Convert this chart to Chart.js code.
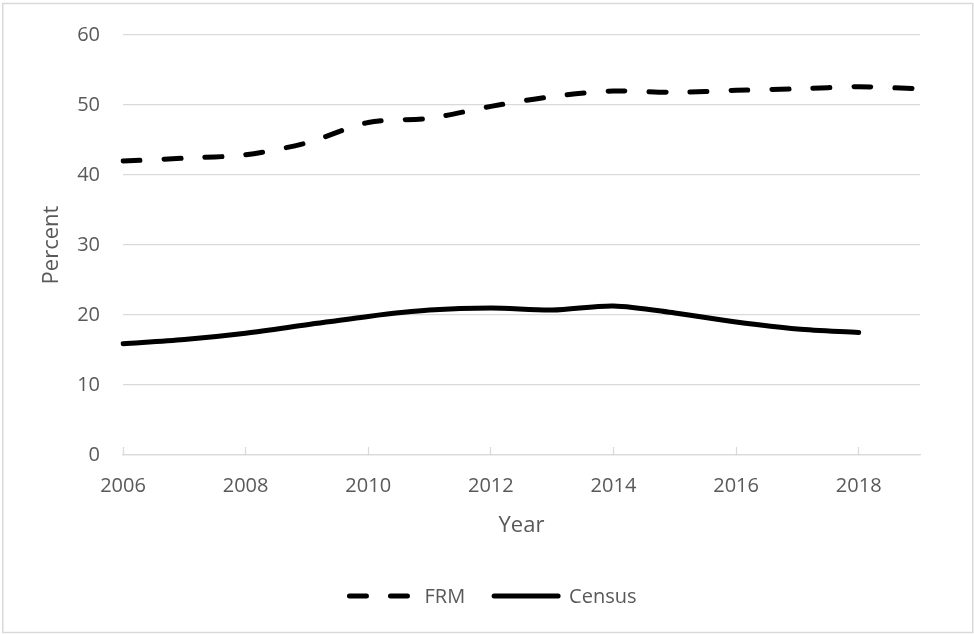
<!DOCTYPE html>
<html>
<head>
<meta charset="utf-8">
<title>FRM vs Census</title>
<script src="https://cdn.jsdelivr.net/npm/chart.js@4.4.1/dist/chart.umd.min.js"></script>
<style>
  html, body { margin: 0; padding: 0; background: #ffffff; }
  canvas { display: block; }
</style>
</head>
<body>
<canvas id="chart" width="974" height="634"></canvas>
<script>
// Years on the horizontal axis
const years = ['2006', '2007', '2008', '2009', '2010', '2011', '2012',
               '2013', '2014', '2015', '2016', '2017', '2018', '2019'];

// Share (percent) by year for each source
const frmPercent    = [42.0, 42.4, 42.9, 44.6, 47.5, 48.1, 49.8, 51.2, 52.0, 51.8, 52.1, 52.3, 52.6, 52.3];
const censusPercent = [15.9, 16.5, 17.4, 18.6, 19.8, 20.7, 21.0, 20.7, 21.3, 20.3, 19.0, 18.0, 17.5, null];

// Vertical axis range and step
const percentMin = 0;
const percentMax = 60;
const percentStep = 10;

const TEXT_COLOR = '#595959';
const RULE_COLOR = '#d9d9d9';
const FONT_FAMILY = '"Open Sans", "DejaVu Sans", sans-serif';

// Thin frame around the whole figure
const framePlugin = {
  id: 'frame',
  beforeDraw(chart) {
    const { ctx } = chart;
    ctx.save();
    ctx.fillStyle = '#ffffff';
    ctx.fillRect(0, 0, chart.width, chart.height);
    ctx.strokeStyle = RULE_COLOR;
    ctx.lineWidth = 1.5;
    ctx.strokeRect(2.75, 3.5, 970, 629);
    ctx.restore();
  }
};

// Legend row under the axis title, drawn with each dataset's own line style
const lineLegendPlugin = {
  id: 'lineLegend',
  afterDraw(chart, args, opts) {
    const { ctx } = chart;
    ctx.save();
    ctx.font = opts.fontSize + 'px ' + FONT_FAMILY;
    const items = chart.data.datasets.map(ds => ({ ds, tw: ctx.measureText(ds.label).width }));
    const total = items.reduce((s, it) => s + opts.sampleWidth + opts.textGap + it.tw, 0)
                + opts.itemGap * (items.length - 1);
    let x = opts.centerX - total / 2;
    items.forEach(({ ds, tw }) => {
      ctx.beginPath();
      ctx.setLineDash(ds.borderDash || []);
      ctx.lineWidth = ds.borderWidth;
      ctx.lineCap = ds.borderCapStyle || 'butt';
      ctx.strokeStyle = ds.borderColor;
      ctx.moveTo(x, opts.y);
      ctx.lineTo(x + opts.sampleWidth, opts.y);
      ctx.stroke();
      ctx.setLineDash([]);
      ctx.fillStyle = TEXT_COLOR;
      ctx.textBaseline = 'middle';
      ctx.textAlign = 'left';
      ctx.fillText(ds.label, x + opts.sampleWidth + opts.textGap, opts.y + 1);
      x += opts.sampleWidth + opts.textGap + tw + opts.itemGap;
    });
    ctx.restore();
  }
};

function draw() {
  new Chart(document.getElementById('chart'), {
    type: 'line',
    data: {
      labels: years,
      datasets: [
        {
          label: 'FRM',
          data: frmPercent,
          borderColor: '#000000',
          borderWidth: 5,
          borderDash: [17, 24],
          borderCapStyle: 'round',
          tension: 0.3,
          pointRadius: 0,
          fill: false
        },
        {
          label: 'Census',
          data: censusPercent,
          borderColor: '#000000',
          borderWidth: 5,
          borderCapStyle: 'round',
          borderJoinStyle: 'round',
          tension: 0.3,
          pointRadius: 0,
          fill: false,
          spanGaps: false
        }
      ]
    },
    options: {
      responsive: false,
      animation: false,
      devicePixelRatio: 1,
      layout: { padding: { left: 30, right: 54, top: 31, bottom: 74 } },
      plugins: {
        legend: { display: false },
        tooltip: { enabled: false },
        lineLegend: { centerX: 493, y: 596, sampleWidth: 64, textGap: 11, itemGap: 29, fontSize: 20 }
      },
      scales: {
        x: {
          type: 'category',
          offset: false,
          grid: {
            drawOnChartArea: false,
            drawTicks: true,
            tickLength: -8,
            tickWidth: 1.3,
            tickColor: c => (c.index % 2 === 0 ? RULE_COLOR : 'rgba(0,0,0,0)')
          },
          border: { display: true, color: RULE_COLOR, width: 1.3 },
          ticks: {
            autoSkip: false,
            maxRotation: 0,
            minRotation: 0,
            padding: 27,
            color: TEXT_COLOR,
            font: { family: FONT_FAMILY, size: 20 },
            callback: (v, i) => (i % 2 === 0 ? years[i] : '')
          },
          title: {
            display: true,
            text: 'Year',
            color: TEXT_COLOR,
            font: { family: FONT_FAMILY, size: 22 },
            padding: { top: 0, bottom: 21 }
          },
          afterFit: s => { s.height = 105; }
        },
        y: {
          min: percentMin,
          max: percentMax,
          grid: { color: RULE_COLOR, lineWidth: 1.3, drawTicks: false },
          border: { display: false },
          ticks: {
            stepSize: percentStep,
            padding: 23,
            color: TEXT_COLOR,
            font: { family: FONT_FAMILY, size: 20 }
          },
          title: {
            display: true,
            text: 'Percent',
            color: TEXT_COLOR,
            font: { family: FONT_FAMILY, size: 22 },
            padding: { top: 9, bottom: 0 }
          },
          afterFit: s => { s.width = 93; }
        }
      }
    },
    plugins: [framePlugin, lineLegendPlugin]
  });
}

if (document.fonts && document.fonts.load) {
  Promise.all([
    document.fonts.load('20px "Open Sans"'),
    document.fonts.load('22px "Open Sans"')
  ]).then(draw, draw);
} else {
  draw();
}
</script>
</body>
</html>
